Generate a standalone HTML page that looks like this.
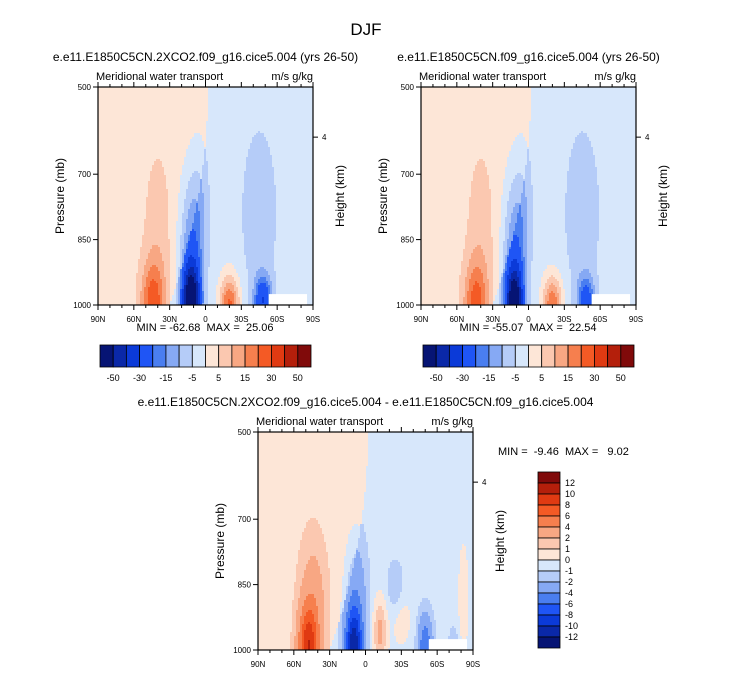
<!DOCTYPE html>
<html><head><meta charset="utf-8"><style>
body{margin:0;background:#fff}
svg text{font-family:"Liberation Sans",Arial,sans-serif;fill:#000;white-space:pre}
</style></head><body>
<svg id="s" width="733" height="673" xmlns="http://www.w3.org/2000/svg">
<text x="366" y="35" font-size="17" text-anchor="middle">DJF</text>
</svg>
<script>
// ---- data ----
const latTicks=[90,60,30,0,-30,-60,-90];
const latTickLabels=["90N","60N","30N","0","30S","60S","90S"];
const presTicks=[500,700,850,1000];
const levels1=[-50,-40,-30,-20,-15,-10,-5,0,5,10,15,20,30,40,50];
const levels3=[-12,-10,-8,-6,-4,-2,-1,0,1,2,4,6,8,10,12];
const colors=["#061474","#0a28a8","#0b3ad8","#1f55f5","#4a7ef0","#86a9f4","#b5ccf8","#d7e7fb","#fde6d7","#fbc8b0","#f8a783","#f67f4e","#f45a25","#e03a12","#b41f0b","#800a0a"];
// blobs: lat, pressure, amplitude, lat-width, pres-width
const blobs1=[[44,1000,20,10,100],[40,830,5,12,200],[12,1000,-62,7,85],[12,880,-16,10,170],[5,760,-5,8,150],[-20,1000,24,8,65],[-48,990,-26,7,55],[-45,790,-6,15,200],[-82,850,2,5,200]];
const blobs2=[[44,1000,19,10,100],[40,830,5,12,200],[12,1000,-55,7,85],[12,880,-15,10,170],[5,760,-5,8,150],[-20,1000,22,8,65],[-48,990,-22,7,55],[-45,790,-6,15,200],[-82,850,2,5,200]];
const blobs3=[[48,995,8,8,90],[44,900,2.5,11,150],[-74,990,-1.5,4,40],[10,990,-9,7,80],[8,900,-3,9,150],[-12,960,3,6,80],[-30,930,1.2,9,70],[-50,990,-5,6,70],[-25,860,-1.5,7,60],[-82,880,1.2,5,150]];
const bg1=[2.5,-2.5]; const bg3=[0.6,-0.6];
// ---- drawing ----
const S=document.getElementById('s');const NS="http://www.w3.org/2000/svg";
function el(t,a,p){const e=document.createElementNS(NS,t);for(const k in a)e.setAttribute(k,a[k]);(p||S).appendChild(e);return e;}
function txt(x,y,s,fs,anchor,p){const t=el('text',{x:x,y:y,'font-size':fs,'text-anchor':anchor||'start'},p);t.textContent=s;return t;}
function lvl(v,L){let i=0;while(i<L.length&&v>L[i])i++;return i;}
function field(lat,p,bl,bg){
  const b=-2+32*Math.pow((p-500)/500,2);
  let v=(lat>b?bg[0]:bg[1]);
  for(const q of bl){const a=(lat-q[0])/q[3],d=(p-q[1])/q[4];v+=q[2]*Math.exp(-(a*a)-(d*d));}
  return v;
}
function panel(name,x0,y0,title,bl,bg,L){
  const w=215,h=218;
  const g=el('g',{});
  
  
  const X=lat=>x0+(90-lat)/180*w, Y=p=>y0+(p-500)/500*h;
  const c=2;
  for(let y=0;y<h;y+=c)for(let x=0;x<w;x+=c){
    const lat=90-(x+c/2)/w*180,p=500+(y+c/2)/h*500;
    const r=el('rect',{x:x0+x,y:y0+y,width:Math.min(c,w-x)+0.3,height:Math.min(c,h-y)+0.3,fill:colors[lvl(field(lat,p,bl,bg),L)]},g);
    
    
  }
  el('rect',{x:X(-53),y:Y(975),width:X(-85)-X(-53),height:Y(1000)-Y(975),fill:'#fff'},g);
  el('rect',{x:x0,y:y0,width:w,height:h,fill:'none',stroke:'#000','stroke-width':1.2},g);
  for(let lat=90;lat>=-90;lat-=10){const major=lat%30==0,l=major?5:3;
    el('line',{x1:X(lat),x2:X(lat),y1:y0+h,y2:y0+h+l,stroke:'#000'},g);
    el('line',{x1:X(lat),x2:X(lat),y1:y0,y2:y0-l,stroke:'#000'},g);}
  latTicks.forEach((t,i)=>txt(X(t),y0+h+17,latTickLabels[i],8,'middle',g));
  presTicks.forEach(p=>{el('line',{x1:x0-5,x2:x0,y1:Y(p),y2:Y(p),stroke:'#000'},g);txt(x0-7,Y(p)+3,String(p),8,'end',g);});
  el('line',{x1:x0+w,x2:x0+w+5,y1:Y(615),y2:Y(615),stroke:'#000'},g);
  txt(x0+w+9,Y(615)+3,'4',8,'start',g);
  const pl=txt(x0-34,y0+h/2,'Pressure (mb)',12,'middle',g);pl.setAttribute('transform',`rotate(-90 ${x0-34} ${y0+h/2})`);
  const hl=txt(x0+w+31,y0+h/2,'Height (km)',12,'middle',g);hl.setAttribute('transform',`rotate(-90 ${x0+w+31} ${y0+h/2})`);
  txt(x0-2,y0-7,'Meridional water transport',11,'start',g);
  txt(x0+w,y0-7,'m/s g/kg',11,'end',g);
  txt(x0+w/2,y0-26,title,12,'middle',g);
}
function hbar(name,x0,y0){
  const g=el('g',{});
  const bw=211/16;
  colors.forEach((c,i)=>el('rect',{x:x0+i*bw,y:y0,width:bw,height:22,fill:c,stroke:'#000','stroke-width':0.8},g));
  levels1.forEach((v,i)=>{if(i%2==0)txt(x0+(i+1)*bw,y0+36,String(v),9,'middle',g);});
}
panel('panel-2xco2',98,87,'e.e11.E1850C5CN.2XCO2.f09_g16.cice5.004 (yrs 26-50)',blobs1,bg1,levels1);
txt(205,331,'MIN = -62.68  MAX =  25.06',11,'middle');
hbar('colorbar-1',100,345);
panel('panel-control',421,87,'e.e11.E1850C5CN.f09_g16.cice5.004 (yrs 26-50)',blobs2,bg1,levels1);
txt(528,331,'MIN = -55.07  MAX =  22.54',11,'middle');
hbar('colorbar-2',423,345);
panel('panel-difference',258,432,'e.e11.E1850C5CN.2XCO2.f09_g16.cice5.004 - e.e11.E1850C5CN.f09_g16.cice5.004',blobs3,bg3,levels3);
txt(498,455,'MIN =  -9.46  MAX =   9.02',11,'start');
(function(){const g=el('g',{});
  const bh=11,x0=538,y0=472;
  colors.slice().reverse().forEach((c,i)=>el('rect',{x:x0,y:y0+i*bh,width:22,height:bh,fill:c,stroke:'#000','stroke-width':0.8},g));
  levels3.slice().reverse().forEach((v,i)=>txt(x0+27,y0+(i+1)*bh+3,String(v),9,'start',g));
})();
</script>
</body></html>
